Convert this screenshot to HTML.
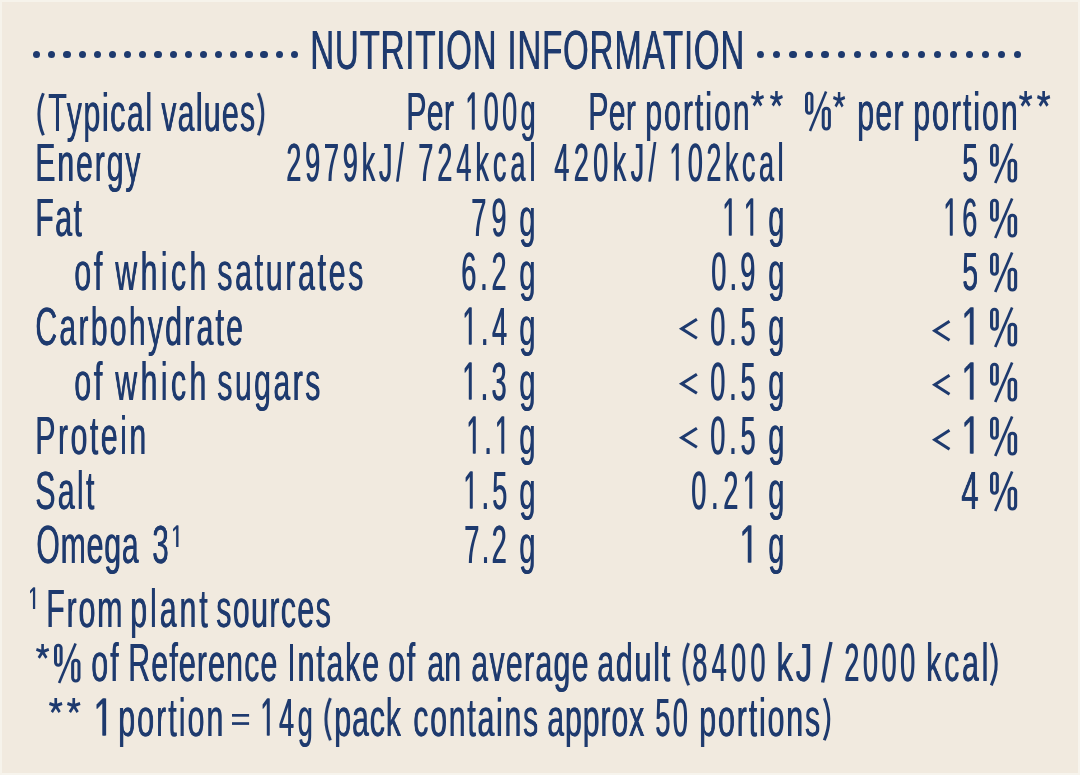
<!DOCTYPE html>
<html><head><meta charset="utf-8"><style>
html,body{margin:0;padding:0;}
body{width:1080px;height:775px;background:#f1eadf;position:relative;overflow:hidden;font-family:"Liberation Sans", sans-serif;color:#1e3a6e;}
.t{position:absolute;white-space:nowrap;line-height:1;transform-origin:0 0;will-change:transform;}
.d{position:absolute;top:50.6px;width:7.2px;height:7.2px;border-radius:50%;background:#1e3a6e;}
.p{position:absolute;height:40px;overflow:visible;}
.lt{position:absolute;height:21.5px;overflow:visible;}
.as{position:absolute;overflow:visible;}
.o{display:inline-block;vertical-align:baseline;overflow:visible;}
#er{position:absolute;left:1078px;top:0;width:2px;height:775px;background:#f7f4ed;}
#eb{position:absolute;left:0;top:773px;width:1080px;height:2px;background:#f7f4ed;}
#et{position:absolute;left:0;top:0;width:1080px;height:1.5px;background:#f6f3eb;}
#el{position:absolute;left:0;top:0;width:1.5px;height:775px;background:#f6f3eb;}
</style></head><body>
<svg width="0" height="0" style="position:absolute"><defs><g id="pc" fill="none" stroke="#1e3a6e" stroke-width="3.1">
<rect x="1.55" y="2.2" width="5.7" height="20" rx="2.85"/>
<rect x="19" y="17.2" width="6.45" height="20.8" rx="3.2"/>
<line x1="5.2" y1="40" x2="22" y2="0.5" stroke-width="2.7"/>
</g><path id="one" d="M515 0L515 -1237L197 -1010L197 -1180L530 -1409L696 -1409L696 0Z" fill="#1e3a6e"/><path id="ast" d="M0 0L0.00 -8.40M0 0L7.99 -2.60M0 0L-7.99 -2.60M0 0L4.94 6.80M0 0L-4.94 6.80" stroke="#1e3a6e" stroke-width="3.4" fill="none"/></defs></svg>
<div id="er"></div><div id="eb"></div><div id="et"></div><div id="el"></div>
<div class="d" style="left:33.10px"></div>
<div class="d" style="left:48.26px"></div>
<div class="d" style="left:63.42px"></div>
<div class="d" style="left:78.58px"></div>
<div class="d" style="left:93.74px"></div>
<div class="d" style="left:108.89px"></div>
<div class="d" style="left:124.05px"></div>
<div class="d" style="left:139.21px"></div>
<div class="d" style="left:154.37px"></div>
<div class="d" style="left:169.53px"></div>
<div class="d" style="left:184.69px"></div>
<div class="d" style="left:199.85px"></div>
<div class="d" style="left:215.01px"></div>
<div class="d" style="left:230.16px"></div>
<div class="d" style="left:245.32px"></div>
<div class="d" style="left:260.48px"></div>
<div class="d" style="left:275.64px"></div>
<div class="d" style="left:290.80px"></div>
<div class="d" style="left:757.20px"></div>
<div class="d" style="left:773.26px"></div>
<div class="d" style="left:789.32px"></div>
<div class="d" style="left:805.39px"></div>
<div class="d" style="left:821.45px"></div>
<div class="d" style="left:837.51px"></div>
<div class="d" style="left:853.57px"></div>
<div class="d" style="left:869.64px"></div>
<div class="d" style="left:885.70px"></div>
<div class="d" style="left:901.76px"></div>
<div class="d" style="left:917.82px"></div>
<div class="d" style="left:933.89px"></div>
<div class="d" style="left:949.95px"></div>
<div class="d" style="left:966.01px"></div>
<div class="d" style="left:982.07px"></div>
<div class="d" style="left:998.14px"></div>
<div class="d" style="left:1014.20px"></div>
<div class="t" style="left:309.90px;top:23.43px;font-size:55px;letter-spacing:1.382px;text-shadow:1.000px 0 0 #1e3a6e;transform:scaleX(0.6000)">NUTRITION INFORMATION</div>
<div class="t" style="left:47.64px;top:85.28px;font-size:54px;letter-spacing:2.894px;text-shadow:1.071px 0 0 #1e3a6e;transform:scaleX(0.5600)">Typical</div>
<div class="t" style="left:160.80px;top:85.28px;font-size:54px;letter-spacing:2.267px;text-shadow:1.071px 0 0 #1e3a6e;transform:scaleX(0.5600)">values</div>
<div class="t" style="left:406.16px;top:83.88px;font-size:54px;letter-spacing:0.511px;text-shadow:1.071px 0 0 #1e3a6e;transform:scaleX(0.5600)">Per</div>
<div class="t" style="left:464.86px;top:83.88px;font-size:54px;letter-spacing:6.795px;text-shadow:1.200px 0 0 #1e3a6e;transform:scaleX(0.5000)"><svg class="o" style="width:30.032px;height:39.551px;margin-right:6.795px" viewBox="0 -1500 1139 1500"><use href="#one"/><use href="#one" x="45.5"/></svg>00g</div>
<div class="t" style="left:587.66px;top:83.88px;font-size:54px;letter-spacing:0.422px;text-shadow:1.071px 0 0 #1e3a6e;transform:scaleX(0.5600)">Per</div>
<div class="t" style="left:645.02px;top:83.88px;font-size:54px;letter-spacing:3.517px;text-shadow:1.071px 0 0 #1e3a6e;transform:scaleX(0.5600)">portion</div>
<div class="t" style="left:856.52px;top:83.68px;font-size:54px;letter-spacing:2.200px;text-shadow:1.071px 0 0 #1e3a6e;transform:scaleX(0.5600)">per</div>
<div class="t" style="left:912.52px;top:83.68px;font-size:54px;letter-spacing:3.546px;text-shadow:1.071px 0 0 #1e3a6e;transform:scaleX(0.5600)">portion</div>
<div class="t" style="left:35.26px;top:135.28px;font-size:54px;letter-spacing:3.331px;text-shadow:1.071px 0 0 #1e3a6e;transform:scaleX(0.5600)">Energy</div>
<div class="t" style="left:35.26px;top:190.28px;font-size:54px;letter-spacing:2.634px;text-shadow:1.071px 0 0 #1e3a6e;transform:scaleX(0.5600)">Fat</div>
<div class="t" style="left:73.78px;top:244.28px;font-size:54px;letter-spacing:5.075px;text-shadow:1.071px 0 0 #1e3a6e;transform:scaleX(0.5600)">of</div>
<div class="t" style="left:115.06px;top:244.28px;font-size:54px;letter-spacing:6.127px;text-shadow:1.071px 0 0 #1e3a6e;transform:scaleX(0.5600)">which</div>
<div class="t" style="left:216.74px;top:244.28px;font-size:54px;letter-spacing:4.829px;text-shadow:1.071px 0 0 #1e3a6e;transform:scaleX(0.5600)">saturates</div>
<div class="t" style="left:35.38px;top:299.28px;font-size:54px;letter-spacing:3.966px;text-shadow:1.071px 0 0 #1e3a6e;transform:scaleX(0.5600)">Carbohydrate</div>
<div class="t" style="left:73.78px;top:353.78px;font-size:54px;letter-spacing:5.075px;text-shadow:1.071px 0 0 #1e3a6e;transform:scaleX(0.5600)">of</div>
<div class="t" style="left:115.06px;top:353.78px;font-size:54px;letter-spacing:6.127px;text-shadow:1.071px 0 0 #1e3a6e;transform:scaleX(0.5600)">which</div>
<div class="t" style="left:216.74px;top:353.78px;font-size:54px;letter-spacing:4.377px;text-shadow:1.071px 0 0 #1e3a6e;transform:scaleX(0.5600)">sugars</div>
<div class="t" style="left:35.26px;top:408.28px;font-size:54px;letter-spacing:4.471px;text-shadow:1.071px 0 0 #1e3a6e;transform:scaleX(0.5600)">Protein</div>
<div class="t" style="left:35.38px;top:463.28px;font-size:54px;letter-spacing:4.115px;text-shadow:1.071px 0 0 #1e3a6e;transform:scaleX(0.5600)">Salt</div>
<div class="t" style="left:36.08px;top:517.28px;font-size:54px;letter-spacing:1.434px;text-shadow:1.071px 0 0 #1e3a6e;transform:scaleX(0.5600)">Omega</div>
<div class="t" style="left:151.91px;top:517.28px;font-size:54px;text-shadow:1.099px 0 0 #1e3a6e;transform:scaleX(0.5462)">3</div>
<div class="t" style="left:285.90px;top:135.28px;font-size:54px;letter-spacing:7.645px;text-shadow:1.200px 0 0 #1e3a6e;transform:scaleX(0.5000)">2979kJ/</div>
<div class="t" style="left:418.10px;top:135.28px;font-size:54px;letter-spacing:8.045px;text-shadow:1.200px 0 0 #1e3a6e;transform:scaleX(0.5000)">724kcal</div>
<div class="t" style="left:553.80px;top:135.28px;font-size:54px;letter-spacing:8.901px;text-shadow:1.200px 0 0 #1e3a6e;transform:scaleX(0.5000)">420kJ/</div>
<div class="t" style="left:669.46px;top:135.28px;font-size:54px;letter-spacing:7.059px;text-shadow:1.200px 0 0 #1e3a6e;transform:scaleX(0.5000)"><svg class="o" style="width:30.032px;height:39.551px;margin-right:7.059px" viewBox="0 -1500 1139 1500"><use href="#one"/><use href="#one" x="45.5"/></svg>02kcal</div>
<div class="t" style="left:470.90px;top:190.28px;font-size:54px;letter-spacing:10.368px;text-shadow:1.200px 0 0 #1e3a6e;transform:scaleX(0.5000)">79</div>
<div class="t" style="left:519.22px;top:190.28px;font-size:54px;text-shadow:1.111px 0 0 #1e3a6e;transform:scaleX(0.5400)">g</div>
<div class="t" style="left:461.30px;top:244.28px;font-size:54px;letter-spacing:7.682px;text-shadow:1.200px 0 0 #1e3a6e;transform:scaleX(0.5000)">6.2</div>
<div class="t" style="left:519.22px;top:244.28px;font-size:54px;text-shadow:1.111px 0 0 #1e3a6e;transform:scaleX(0.5400)">g</div>
<div class="t" style="left:461.76px;top:299.28px;font-size:54px;letter-spacing:7.223px;text-shadow:1.200px 0 0 #1e3a6e;transform:scaleX(0.5000)"><svg class="o" style="width:30.032px;height:39.551px;margin-right:7.223px" viewBox="0 -1500 1139 1500"><use href="#one"/><use href="#one" x="45.5"/></svg>.4</div>
<div class="t" style="left:519.22px;top:299.28px;font-size:54px;text-shadow:1.111px 0 0 #1e3a6e;transform:scaleX(0.5400)">g</div>
<div class="t" style="left:461.76px;top:353.78px;font-size:54px;letter-spacing:6.723px;text-shadow:1.200px 0 0 #1e3a6e;transform:scaleX(0.5000)"><svg class="o" style="width:30.032px;height:39.551px;margin-right:6.723px" viewBox="0 -1500 1139 1500"><use href="#one"/><use href="#one" x="45.5"/></svg>.3</div>
<div class="t" style="left:519.22px;top:353.78px;font-size:54px;text-shadow:1.111px 0 0 #1e3a6e;transform:scaleX(0.5400)">g</div>
<div class="t" style="left:465.86px;top:408.28px;font-size:54px;letter-spacing:6.045px;text-shadow:1.200px 0 0 #1e3a6e;transform:scaleX(0.5000)"><svg class="o" style="width:30.032px;height:39.551px;margin-right:6.045px" viewBox="0 -1500 1139 1500"><use href="#one"/><use href="#one" x="45.5"/></svg>.<svg class="o" style="width:30.032px;height:39.551px;margin-right:6.045px" viewBox="0 -1500 1139 1500"><use href="#one"/><use href="#one" x="45.5"/></svg></div>
<div class="t" style="left:519.22px;top:408.28px;font-size:54px;text-shadow:1.111px 0 0 #1e3a6e;transform:scaleX(0.5400)">g</div>
<div class="t" style="left:462.56px;top:463.28px;font-size:54px;letter-spacing:6.423px;text-shadow:1.200px 0 0 #1e3a6e;transform:scaleX(0.5000)"><svg class="o" style="width:30.032px;height:39.551px;margin-right:6.423px" viewBox="0 -1500 1139 1500"><use href="#one"/><use href="#one" x="45.5"/></svg>.5</div>
<div class="t" style="left:519.22px;top:463.28px;font-size:54px;text-shadow:1.111px 0 0 #1e3a6e;transform:scaleX(0.5400)">g</div>
<div class="t" style="left:464.10px;top:517.28px;font-size:54px;letter-spacing:4.882px;text-shadow:1.200px 0 0 #1e3a6e;transform:scaleX(0.5000)">7.2</div>
<div class="t" style="left:519.22px;top:517.28px;font-size:54px;text-shadow:1.111px 0 0 #1e3a6e;transform:scaleX(0.5400)">g</div>
<div class="t" style="left:722.26px;top:190.28px;font-size:54px;letter-spacing:13.101px;text-shadow:1.200px 0 0 #1e3a6e;transform:scaleX(0.5000)"><svg class="o" style="width:30.032px;height:39.551px;margin-right:13.101px" viewBox="0 -1500 1139 1500"><use href="#one"/><use href="#one" x="45.5"/></svg><svg class="o" style="width:30.032px;height:39.551px;margin-right:13.101px" viewBox="0 -1500 1139 1500"><use href="#one"/><use href="#one" x="45.5"/></svg></div>
<div class="t" style="left:767.64px;top:190.28px;font-size:54px;text-shadow:1.128px 0 0 #1e3a6e;transform:scaleX(0.5320)">g</div>
<div class="t" style="left:710.50px;top:244.28px;font-size:54px;letter-spacing:6.482px;text-shadow:1.200px 0 0 #1e3a6e;transform:scaleX(0.5000)">0.9</div>
<div class="t" style="left:767.64px;top:244.28px;font-size:54px;text-shadow:1.128px 0 0 #1e3a6e;transform:scaleX(0.5320)">g</div>
<div class="t" style="left:709.60px;top:299.28px;font-size:54px;letter-spacing:7.782px;text-shadow:1.200px 0 0 #1e3a6e;transform:scaleX(0.5000)">0.5</div>
<div class="t" style="left:767.64px;top:299.28px;font-size:54px;text-shadow:1.128px 0 0 #1e3a6e;transform:scaleX(0.5320)">g</div>
<div class="t" style="left:709.60px;top:353.78px;font-size:54px;letter-spacing:7.782px;text-shadow:1.200px 0 0 #1e3a6e;transform:scaleX(0.5000)">0.5</div>
<div class="t" style="left:767.64px;top:353.78px;font-size:54px;text-shadow:1.128px 0 0 #1e3a6e;transform:scaleX(0.5320)">g</div>
<div class="t" style="left:709.60px;top:408.28px;font-size:54px;letter-spacing:7.782px;text-shadow:1.200px 0 0 #1e3a6e;transform:scaleX(0.5000)">0.5</div>
<div class="t" style="left:767.64px;top:408.28px;font-size:54px;text-shadow:1.128px 0 0 #1e3a6e;transform:scaleX(0.5320)">g</div>
<div class="t" style="left:690.60px;top:463.28px;font-size:54px;letter-spacing:9.459px;text-shadow:1.200px 0 0 #1e3a6e;transform:scaleX(0.5000)">0.2<svg class="o" style="width:30.032px;height:39.551px;margin-right:9.459px" viewBox="0 -1500 1139 1500"><use href="#one"/><use href="#one" x="45.5"/></svg></div>
<div class="t" style="left:767.64px;top:463.28px;font-size:54px;text-shadow:1.128px 0 0 #1e3a6e;transform:scaleX(0.5320)">g</div>
<div class="t" style="left:739.20px;top:517.28px;font-size:54px;text-shadow:0.925px 0 0 #1e3a6e;transform:scaleX(0.6486)"><svg class="o" style="width:30.032px;height:39.551px;margin-right:0.000px" viewBox="0 -1500 1139 1500"><use href="#one"/><use href="#one" x="35.1"/></svg></div>
<div class="t" style="left:767.64px;top:517.28px;font-size:54px;text-shadow:1.128px 0 0 #1e3a6e;transform:scaleX(0.5320)">g</div>
<div class="t" style="left:961.55px;top:135.28px;font-size:54px;text-shadow:1.147px 0 0 #1e3a6e;transform:scaleX(0.5231)">5</div>
<div class="t" style="left:943.26px;top:190.28px;font-size:54px;letter-spacing:7.849px;text-shadow:1.200px 0 0 #1e3a6e;transform:scaleX(0.5000)"><svg class="o" style="width:30.032px;height:39.551px;margin-right:7.849px" viewBox="0 -1500 1139 1500"><use href="#one"/><use href="#one" x="45.5"/></svg>6</div>
<div class="t" style="left:961.55px;top:244.28px;font-size:54px;text-shadow:1.147px 0 0 #1e3a6e;transform:scaleX(0.5231)">5</div>
<div class="t" style="left:961.17px;top:299.28px;font-size:54px;text-shadow:0.915px 0 0 #1e3a6e;transform:scaleX(0.6559)"><svg class="o" style="width:30.032px;height:39.551px;margin-right:0.000px" viewBox="0 -1500 1139 1500"><use href="#one"/><use href="#one" x="34.7"/></svg></div>
<div class="t" style="left:961.17px;top:353.78px;font-size:54px;text-shadow:0.915px 0 0 #1e3a6e;transform:scaleX(0.6559)"><svg class="o" style="width:30.032px;height:39.551px;margin-right:0.000px" viewBox="0 -1500 1139 1500"><use href="#one"/><use href="#one" x="34.7"/></svg></div>
<div class="t" style="left:961.17px;top:408.28px;font-size:54px;text-shadow:0.915px 0 0 #1e3a6e;transform:scaleX(0.6559)"><svg class="o" style="width:30.032px;height:39.551px;margin-right:0.000px" viewBox="0 -1500 1139 1500"><use href="#one"/><use href="#one" x="34.7"/></svg></div>
<div class="t" style="left:960.72px;top:463.28px;font-size:54px;text-shadow:1.043px 0 0 #1e3a6e;transform:scaleX(0.5750)">4</div>
<div class="t" style="left:45.56px;top:580.78px;font-size:54px;letter-spacing:3.310px;text-shadow:1.071px 0 0 #1e3a6e;transform:scaleX(0.5600)">From</div>
<div class="t" style="left:130.02px;top:580.78px;font-size:54px;letter-spacing:5.271px;text-shadow:1.071px 0 0 #1e3a6e;transform:scaleX(0.5600)">plant</div>
<div class="t" style="left:215.84px;top:580.78px;font-size:54px;letter-spacing:2.540px;text-shadow:1.071px 0 0 #1e3a6e;transform:scaleX(0.5600)">sources</div>
<div class="t" style="left:90.88px;top:635.28px;font-size:54px;letter-spacing:3.646px;text-shadow:1.071px 0 0 #1e3a6e;transform:scaleX(0.5600)">of</div>
<div class="t" style="left:128.16px;top:635.28px;font-size:54px;letter-spacing:2.111px;text-shadow:1.071px 0 0 #1e3a6e;transform:scaleX(0.5600)">Reference</div>
<div class="t" style="left:287.16px;top:635.28px;font-size:54px;letter-spacing:3.322px;text-shadow:1.071px 0 0 #1e3a6e;transform:scaleX(0.5600)">Intake</div>
<div class="t" style="left:388.28px;top:635.28px;font-size:54px;letter-spacing:2.932px;text-shadow:1.071px 0 0 #1e3a6e;transform:scaleX(0.5600)">of</div>
<div class="t" style="left:427.18px;top:635.28px;font-size:54px;letter-spacing:0.146px;text-shadow:1.071px 0 0 #1e3a6e;transform:scaleX(0.5600)">an</div>
<div class="t" style="left:470.68px;top:635.28px;font-size:54px;letter-spacing:2.345px;text-shadow:1.071px 0 0 #1e3a6e;transform:scaleX(0.5600)">average</div>
<div class="t" style="left:597.38px;top:635.28px;font-size:54px;letter-spacing:3.280px;text-shadow:1.071px 0 0 #1e3a6e;transform:scaleX(0.5600)">adult</div>
<div class="t" style="left:692.30px;top:635.28px;font-size:54px;letter-spacing:8.701px;text-shadow:1.200px 0 0 #1e3a6e;transform:scaleX(0.5000)">8400</div>
<div class="t" style="left:775.54px;top:635.28px;font-size:54px;letter-spacing:4.290px;text-shadow:0.968px 0 0 #1e3a6e;transform:scaleX(0.6200)">kJ</div>
<div class="t" style="left:843.50px;top:635.28px;font-size:54px;letter-spacing:7.234px;text-shadow:1.200px 0 0 #1e3a6e;transform:scaleX(0.5000)">2000</div>
<div class="t" style="left:926.12px;top:635.28px;font-size:54px;letter-spacing:4.930px;text-shadow:1.071px 0 0 #1e3a6e;transform:scaleX(0.5600)">kcal</div>
<div class="t" style="left:92.56px;top:689.78px;font-size:54px;text-shadow:0.886px 0 0 #1e3a6e;transform:scaleX(0.6775)"><svg class="o" style="width:30.032px;height:39.551px;margin-right:0.000px" viewBox="0 -1500 1139 1500"><use href="#one"/><use href="#one" x="33.6"/></svg></div>
<div class="t" style="left:118.12px;top:689.78px;font-size:54px;letter-spacing:3.725px;text-shadow:1.071px 0 0 #1e3a6e;transform:scaleX(0.5600)">portion</div>
<div class="t" style="left:259.96px;top:689.78px;font-size:54px;letter-spacing:7.408px;text-shadow:1.200px 0 0 #1e3a6e;transform:scaleX(0.5000)"><svg class="o" style="width:30.032px;height:39.551px;margin-right:7.408px" viewBox="0 -1500 1139 1500"><use href="#one"/><use href="#one" x="45.5"/></svg>4g</div>
<div class="t" style="left:333.62px;top:689.78px;font-size:54px;letter-spacing:1.633px;text-shadow:1.071px 0 0 #1e3a6e;transform:scaleX(0.5600)">pack</div>
<div class="t" style="left:413.08px;top:689.78px;font-size:54px;letter-spacing:3.124px;text-shadow:1.071px 0 0 #1e3a6e;transform:scaleX(0.5600)">contains</div>
<div class="t" style="left:546.68px;top:689.78px;font-size:54px;letter-spacing:1.592px;text-shadow:1.071px 0 0 #1e3a6e;transform:scaleX(0.5600)">approx</div>
<div class="t" style="left:655.10px;top:689.78px;font-size:54px;letter-spacing:4.968px;text-shadow:1.200px 0 0 #1e3a6e;transform:scaleX(0.5000)">50</div>
<div class="t" style="left:698.92px;top:689.78px;font-size:54px;letter-spacing:3.382px;text-shadow:1.071px 0 0 #1e3a6e;transform:scaleX(0.5600)">portions</div>
<div class="t" style="left:171.18px;top:520.73px;font-size:31.5px;text-shadow:0.764px 0 0 #1e3a6e;transform:scaleX(0.6548)"><svg class="o" style="width:17.519px;height:23.071px;margin-right:0.000px" viewBox="0 -1500 1139 1500"><use href="#one"/><use href="#one" x="49.6"/></svg></div>
<div class="t" style="left:27.87px;top:582.53px;font-size:31.5px;text-shadow:0.809px 0 0 #1e3a6e;transform:scaleX(0.6178)"><svg class="o" style="width:17.519px;height:23.071px;margin-right:0.000px" viewBox="0 -1500 1139 1500"><use href="#one"/><use href="#one" x="52.6"/></svg></div>
<svg class="p" style="left:804.70px;top:91.40px;width:25.90px" viewBox="0 0 27 40" preserveAspectRatio="none"><use href="#pc"/></svg>
<svg class="p" style="left:990.40px;top:143.00px;width:27.20px" viewBox="0 0 27 40" preserveAspectRatio="none"><use href="#pc"/></svg>
<svg class="p" style="left:990.40px;top:198.00px;width:27.20px" viewBox="0 0 27 40" preserveAspectRatio="none"><use href="#pc"/></svg>
<svg class="p" style="left:990.40px;top:252.00px;width:27.20px" viewBox="0 0 27 40" preserveAspectRatio="none"><use href="#pc"/></svg>
<svg class="p" style="left:990.40px;top:307.00px;width:27.20px" viewBox="0 0 27 40" preserveAspectRatio="none"><use href="#pc"/></svg>
<svg class="p" style="left:990.40px;top:361.50px;width:27.20px" viewBox="0 0 27 40" preserveAspectRatio="none"><use href="#pc"/></svg>
<svg class="p" style="left:990.40px;top:416.00px;width:27.20px" viewBox="0 0 27 40" preserveAspectRatio="none"><use href="#pc"/></svg>
<svg class="p" style="left:990.40px;top:471.00px;width:27.20px" viewBox="0 0 27 40" preserveAspectRatio="none"><use href="#pc"/></svg>
<svg class="p" style="left:54.00px;top:643.00px;width:26.50px" viewBox="0 0 27 40" preserveAspectRatio="none"><use href="#pc"/></svg>
<svg class="lt" style="left:680.10px;top:318.40px;width:18.00px" viewBox="0 0 18 21.5" preserveAspectRatio="none"><polyline points="16.9,1.3 1.8,10.75 16.9,20.2" fill="none" stroke="#1e3a6e" stroke-width="3.1" stroke-linecap="butt" stroke-linejoin="miter"/></svg>
<svg class="lt" style="left:680.10px;top:372.90px;width:18.00px" viewBox="0 0 18 21.5" preserveAspectRatio="none"><polyline points="16.9,1.3 1.8,10.75 16.9,20.2" fill="none" stroke="#1e3a6e" stroke-width="3.1" stroke-linecap="butt" stroke-linejoin="miter"/></svg>
<svg class="lt" style="left:680.10px;top:427.40px;width:18.00px" viewBox="0 0 18 21.5" preserveAspectRatio="none"><polyline points="16.9,1.3 1.8,10.75 16.9,20.2" fill="none" stroke="#1e3a6e" stroke-width="3.1" stroke-linecap="butt" stroke-linejoin="miter"/></svg>
<svg class="lt" style="left:932.70px;top:319.60px;width:17.60px" viewBox="0 0 18 21.5" preserveAspectRatio="none"><polyline points="16.9,1.3 1.8,10.75 16.9,20.2" fill="none" stroke="#1e3a6e" stroke-width="3.1" stroke-linecap="butt" stroke-linejoin="miter"/></svg>
<svg class="lt" style="left:932.70px;top:374.10px;width:17.60px" viewBox="0 0 18 21.5" preserveAspectRatio="none"><polyline points="16.9,1.3 1.8,10.75 16.9,20.2" fill="none" stroke="#1e3a6e" stroke-width="3.1" stroke-linecap="butt" stroke-linejoin="miter"/></svg>
<svg class="lt" style="left:932.70px;top:428.60px;width:17.60px" viewBox="0 0 18 21.5" preserveAspectRatio="none"><polyline points="16.9,1.3 1.8,10.75 16.9,20.2" fill="none" stroke="#1e3a6e" stroke-width="3.1" stroke-linecap="butt" stroke-linejoin="miter"/></svg>
<svg class="as" style="left:751.40px;top:91.20px;width:13.00px;height:15.20px" viewBox="-8.5 -8.5 17 16.1" preserveAspectRatio="none"><use href="#ast"/></svg>
<svg class="as" style="left:769.60px;top:91.20px;width:12.90px;height:15.20px" viewBox="-8.5 -8.5 17 16.1" preserveAspectRatio="none"><use href="#ast"/></svg>
<svg class="as" style="left:833.20px;top:91.60px;width:12.20px;height:15.20px" viewBox="-8.5 -8.5 17 16.1" preserveAspectRatio="none"><use href="#ast"/></svg>
<svg class="as" style="left:1018.80px;top:91.20px;width:13.30px;height:15.50px" viewBox="-8.5 -8.5 17 16.1" preserveAspectRatio="none"><use href="#ast"/></svg>
<svg class="as" style="left:1037.00px;top:91.20px;width:13.30px;height:15.50px" viewBox="-8.5 -8.5 17 16.1" preserveAspectRatio="none"><use href="#ast"/></svg>
<svg class="as" style="left:35.70px;top:643.70px;width:13.20px;height:14.70px" viewBox="-8.5 -8.5 17 16.1" preserveAspectRatio="none"><use href="#ast"/></svg>
<svg class="as" style="left:48.90px;top:698.10px;width:13.50px;height:14.80px" viewBox="-8.5 -8.5 17 16.1" preserveAspectRatio="none"><use href="#ast"/></svg>
<svg class="as" style="left:67.30px;top:698.10px;width:13.50px;height:14.80px" viewBox="-8.5 -8.5 17 16.1" preserveAspectRatio="none"><use href="#ast"/></svg>
<svg class="as" style="left:231.8px;top:714.2px;width:17.10px;height:10.90px" viewBox="0 0 17.10 10.90"><rect x="0" y="0" width="17.10" height="2.70" fill="#1e3a6e"/><rect x="0" y="8.20" width="17.10" height="2.70" fill="#1e3a6e"/></svg>
<svg class="as" style="left:37.00px;top:92.00px;width:7.70px;height:44.5px" viewBox="0 0 7.70 44.5"><path d="M6.40 1.2Q-2.6 22.25 6.40 43.30" fill="none" stroke="#1e3a6e" stroke-width="3"/></svg>
<svg class="as" style="left:257.40px;top:92.00px;width:7.70px;height:44.5px" viewBox="0 0 7.70 44.5"><path d="M1.3 1.2Q10.30 22.25 1.3 43.30" fill="none" stroke="#1e3a6e" stroke-width="3"/></svg>
<svg class="as" style="left:681.70px;top:642.00px;width:7.90px;height:44.5px" viewBox="0 0 7.90 44.5"><path d="M6.60 1.2Q-2.6 22.25 6.60 43.30" fill="none" stroke="#1e3a6e" stroke-width="3"/></svg>
<svg class="as" style="left:989.80px;top:642.00px;width:8.50px;height:44.5px" viewBox="0 0 8.50 44.5"><path d="M1.3 1.2Q11.10 22.25 1.3 43.30" fill="none" stroke="#1e3a6e" stroke-width="3"/></svg>
<svg class="as" style="left:323.90px;top:696.50px;width:7.70px;height:44.5px" viewBox="0 0 7.70 44.5"><path d="M6.40 1.2Q-2.6 22.25 6.40 43.30" fill="none" stroke="#1e3a6e" stroke-width="3"/></svg>
<svg class="as" style="left:822.50px;top:696.50px;width:7.70px;height:44.5px" viewBox="0 0 7.70 44.5"><path d="M1.3 1.2Q10.30 22.25 1.3 43.30" fill="none" stroke="#1e3a6e" stroke-width="3"/></svg>
<svg class="as" style="left:821.30px;top:642.30px;width:11.60px;height:40.50px" viewBox="0 0 11.60 40.50"><line x1="1.6" y1="40.50" x2="10.00" y2="0" stroke="#1e3a6e" stroke-width="3.4"/></svg>
</body></html>
